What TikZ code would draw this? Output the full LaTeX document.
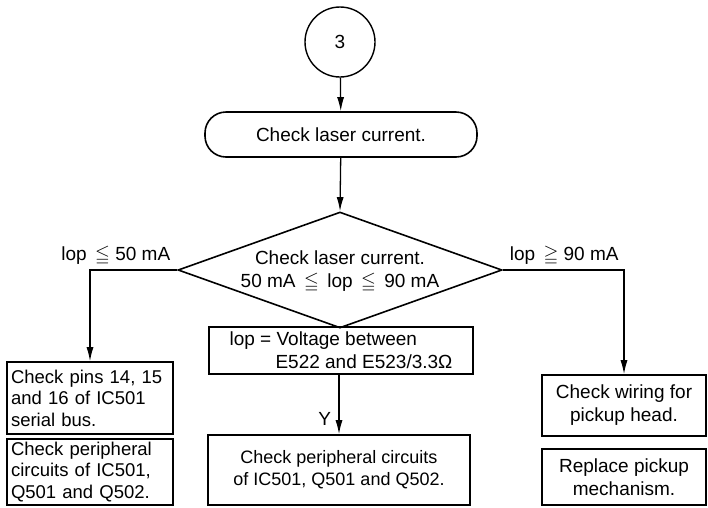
\documentclass[tikz,border=0pt]{standalone}
\usepackage{amsmath, amssymb}
\usepackage{fontspec}
\setmainfont{Liberation Sans}
\usepackage{tikz}
\usetikzlibrary{
  shapes.geometric,%
  arrows.meta,%
  positioning,
  calc
}
\tikzset{>={Latex[length=14pt,width=7pt]}}
\tikzset{font=\fontsize{19}{23}\selectfont}
\tikzset{
  box/.style={draw, line width=1.6pt, inner sep=5pt},
  leftbox/.style={box, align=left, inner xsep=4pt, inner ysep=1.5pt, text width=158pt,
    minimum width=166pt, font=\fontsize{18.5}{21.5}\selectfont},
  midbox/.style={box, align=center, minimum width=264pt},
  rightbox/.style={box, align=center, minimum width=164pt},
  startbox/.style={box, rounded corners=21pt, minimum width=272pt, minimum height=45pt},
  connector/.style={draw, circle, line width=1.4pt, minimum size=70pt, inner sep=0pt},
  decision/.style={draw, diamond, line width=1.6pt, minimum width=324pt,
    minimum height=116pt, inner sep=0pt},
  flow/.style={->, line width=1.3pt}
}

\begin{document}
\begin{tikzpicture}[x=1pt, y=-1pt]
  \useasboundingbox (0,0) rectangle (708,507);
  \node[connector] (three) at (340,42) {3};
  \node[startbox] (laser) at (341,134.5) {Check laser current.};
  \node[decision] (check) at (340,270) {};
  \node[align=center] (checktxt) at (340,272)
    {Check laser current.\\50 mA \,$\leqq$\, lop \,$\leqq$\, 90 mA};
  % middle branch
  \node[midbox, align=left, minimum height=45pt] (volt) at (341,350.5)
    {lop = Voltage between\\\hspace*{46pt}E522 and E523/3.3Ω};
  \node[midbox, minimum width=262pt, minimum height=70pt,
    font=\fontsize{18}{22}\selectfont] (periph) at (339,470)
    {Check peripheral circuits\\of IC501, Q501 and Q502.};
  % left branch
  \node[leftbox, minimum height=72pt] (pins) at (90,398)
    {Check pins 14, 15\\and 16 of IC501\\serial bus.};
  \node[leftbox, minimum height=66pt] (lperiph) at (90,472)
    {Check peripheral\\circuits of IC501,\\Q501 and Q502.};
  % right branch
  \node[rightbox, minimum height=61pt] (wiring) at (624,405.5)
    {Check wiring for\\pickup head.};
  \node[rightbox, minimum height=56pt] (replace) at (624,477)
    {Replace pickup\\mechanism.};

  \draw[flow] (three) -- (laser);
  \draw[flow] (laser) -- (check.north);
  \draw[flow] (check.west) -| (pins.north)
    node[pos=0, anchor=south east, xshift=-3pt, yshift=1pt] {lop \,$\leqq$ 50 mA};
  \draw[flow] (check.east) -| (wiring.north)
    node[pos=0, anchor=south west, xshift=3pt, yshift=1pt] {lop \,$\geqq$ 90 mA};
  \draw[flow] (volt.south -| periph.north) -- (periph.north)
    node[pos=0.75, left=4pt] {Y};
\end{tikzpicture}
\end{document}
